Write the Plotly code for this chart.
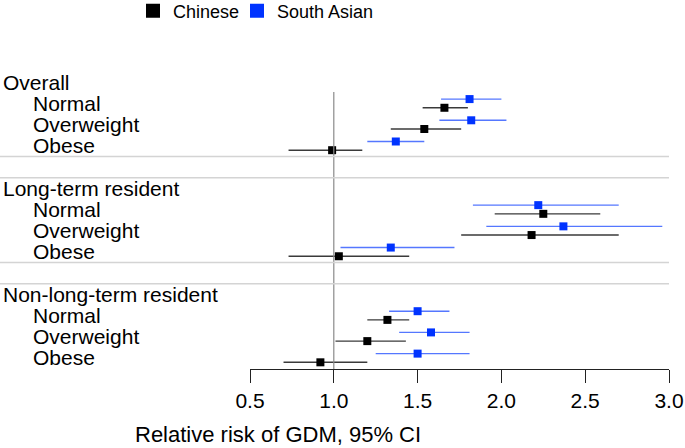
import plotly.graph_objects as go

# ---- data ----
groups = ["Overall", "Long-term resident", "Non-long-term resident"]
bmi_categories = ["Normal", "Overweight", "Obese"]
series_names = ["Chinese", "South Asian"]

chinese_rr = [1.66, 1.54, 0.99, 2.25, 2.18, 1.03, 1.32, 1.20, 0.92]
chinese_lo = [1.53, 1.34, 0.73, 1.96, 1.76, 0.73, 1.20, 1.01, 0.70]
chinese_hi = [1.80, 1.76, 1.17, 2.59, 2.70, 1.45, 1.45, 1.43, 1.20]

south_asian_rr = [1.81, 1.82, 1.37, 2.22, 2.37, 1.34, 1.50, 1.58, 1.50]
south_asian_lo = [1.64, 1.63, 1.20, 1.83, 1.91, 1.04, 1.33, 1.39, 1.25]
south_asian_hi = [2.00, 2.03, 1.54, 2.70, 2.96, 1.72, 1.69, 1.81, 1.81]

tick_vals = [0.5, 1.0, 1.5, 2.0, 2.5, 3.0]
tick_text = ["0.5", "1.0", "1.5", "2.0", "2.5", "3.0"]
x_title = "Relative risk of GDM, 95% CI"
ref_value = 1.0

# ---- layout helpers ----
W, H = 685, 448
ML, MR, MT, MB = 250, 16, 61, 79
PW = W - ML - MR
PH = H - MT - MB

def px_to_paper(px):
    return (px - ML) / PW

def py_to_paper(py):
    return (H - MB - py) / PH

rows = []
for gi, g in enumerate(groups):
    for ci, c in enumerate(bmi_categories):
        rows.append(5 * gi + ci + 1)

off = 0.205
font_main = "Liberation Sans, Arial, sans-serif"
black_marker = "#000000"
black_line = "#3a3a3a"
blue_marker = "#0033ff"
blue_line = "#5577ff"

fig = go.Figure()

fig.add_trace(go.Scatter(
    x=chinese_rr, y=[r + off for r in rows], mode="markers",
    marker=dict(symbol="square", size=8, color=black_marker),
    error_x=dict(type="data", symmetric=False,
                 array=[h - v for h, v in zip(chinese_hi, chinese_rr)],
                 arrayminus=[v - l for v, l in zip(chinese_rr, chinese_lo)],
                 color=black_line, thickness=1.4, width=0),
    showlegend=False, hoverinfo="skip"))

fig.add_trace(go.Scatter(
    x=south_asian_rr, y=[r - off for r in rows], mode="markers",
    marker=dict(symbol="square", size=8, color=blue_marker),
    error_x=dict(type="data", symmetric=False,
                 array=[h - v for h, v in zip(south_asian_hi, south_asian_rr)],
                 arrayminus=[v - l for v, l in zip(south_asian_rr, south_asian_lo)],
                 color=blue_line, thickness=1.4, width=0),
    showlegend=False, hoverinfo="skip"))

# legend-only traces
for name, col in zip(series_names, [black_marker, blue_marker]):
    fig.add_trace(go.Scatter(x=[None], y=[None], mode="markers", name=name,
                             marker=dict(symbol="square", size=14, color=col)))
# invisible spacer entry so the last legend label has room
fig.add_trace(go.Scatter(x=[None], y=[None], mode="markers", name=" ",
                         marker=dict(symbol="square", size=14, color="rgba(0,0,0,0)")))

shapes = []
# reference line
shapes.append(dict(type="line", xref="x", yref="y", x0=ref_value, x1=ref_value,
                   y0=0.46, y1=13.52, line=dict(color="#8a8a8a", width=1.2)))
# separators
for gi in range(len(groups) - 1):
    for s in (5 * gi + 3.5, 5 * gi + 4.5):
        shapes.append(dict(type="line", xref="paper", yref="y",
                           x0=px_to_paper(0), x1=1.0, y0=s, y1=s,
                           line=dict(color="#d4d4d4", width=1.5)))

annotations = []
for gi, g in enumerate(groups):
    annotations.append(dict(text=g, xref="paper", yref="y", x=px_to_paper(1),
                            y=5 * gi, xanchor="left", yanchor="middle",
                            showarrow=False, font=dict(size=21, color="black", family=font_main)))
    for ci, c in enumerate(bmi_categories):
        annotations.append(dict(text=c, xref="paper", yref="y", x=px_to_paper(31),
                                y=5 * gi + ci + 1, xanchor="left", yanchor="middle",
                                showarrow=False, font=dict(size=21, color="black", family=font_main)))
annotations.append(dict(text=x_title, xref="paper", yref="paper", x=px_to_paper(278),
                        y=py_to_paper(434), xanchor="center", yanchor="middle",
                        showarrow=False, font=dict(size=22, color="black", family=font_main)))

fig.update_layout(
    width=W, height=H,
    margin=dict(l=ML, r=MR, t=MT, b=MB, autoexpand=False),
    paper_bgcolor="white", plot_bgcolor="white",
    font=dict(family=font_main, color="black"),
    xaxis=dict(range=[0.5, 3.0], tickvals=tick_vals, ticktext=tick_text,
               showgrid=False, zeroline=False, showline=True, linecolor="#222",
               linewidth=1, ticks="outside", ticklen=13, tickcolor="#222", tickwidth=1,
               automargin=False,
               tickfont=dict(size=21, color="black", family=font_main)),
    yaxis=dict(range=[13.52, -1.0], visible=False, showgrid=False, zeroline=False,
               automargin=False),
    shapes=shapes, annotations=annotations,
    legend=dict(orientation="h", xref="paper", yref="paper",
                x=px_to_paper(133), y=py_to_paper(11), xanchor="left", yanchor="middle",
                font=dict(size=18, family=font_main, color="black"),
                entrywidth=59, entrywidthmode="pixels",
                itemsizing="trace", bgcolor="rgba(0,0,0,0)"),
    showlegend=True,
)

# remove the default 8px page margin so the figure fills the window
fig.write_html("out.html", config={"displayModeBar": False},
               post_script="document.body.style.margin='0px';")
